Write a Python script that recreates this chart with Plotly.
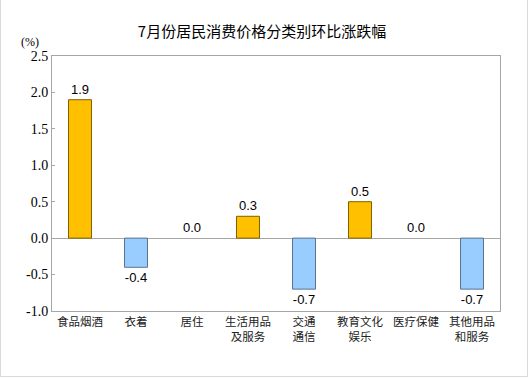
import plotly.graph_objects as go

categories = ["食品烟酒", "衣着", "居住", "生活用品<br>及服务", "交通<br>通信",
              "教育文化<br>娱乐", "医疗保健", "其他用品<br>和服务"]
values = [1.9, -0.4, 0.0, 0.3, -0.7, 0.5, 0.0, -0.7]
y_ticks = [-1.0, -0.5, 0.0, 0.5, 1.0, 1.5, 2.0, 2.5]

W, H = 529, 378
L, R, T, B = 52, 29, 56, 67
pw, ph = W - L - R, H - T - B

fill = ["#FFC000" if v > 0 else "#99CCFF" for v in values]
edge = ["#7F6000" if v > 0 else "#5A7394" for v in values]
edge_w = [1 if v != 0 else 0 for v in values]

fig = go.Figure()
fig.add_trace(go.Bar(
    x=categories, y=values, width=0.41,
    marker=dict(color=fill, line=dict(color=edge, width=edge_w)),
    text=[f"{v:.1f}" for v in values], textposition="outside",
    textfont=dict(family="Liberation Sans, Arial", size=13, color="#000"),
    cliponaxis=False, hoverinfo="skip",
))

def px(x):
    return (x - L) / pw

def py(y):
    return (H - B - y) / ph

fig.update_layout(
    width=W, height=H,
    margin=dict(l=L, r=R, t=T, b=B, autoexpand=False),
    paper_bgcolor="white", plot_bgcolor="white",
    showlegend=False,
    title=dict(text="7月份居民消费价格分类别环比涨跌幅", x=262 / W, xref="container",
               xanchor="center", y=1 - 32 / H, yref="container", yanchor="middle",
               font=dict(family="Noto Sans CJK SC", size=15, color="#000")),
    xaxis=dict(showline=True, linecolor="#A6A6A6", linewidth=1, mirror=True,
               ticks="", showgrid=False,
               tickfont=dict(family="Noto Sans CJK SC", size=11.5, color="#222")),
    yaxis=dict(range=[-1.0, 2.5], tickvals=y_ticks,
               ticktext=[f"{t:.1f}" for t in y_ticks],
               showline=True, linecolor="#A6A6A6", linewidth=1, mirror=True,
               ticks="inside", ticklen=3, tickcolor="#A6A6A6",
               showgrid=False, zeroline=True, zerolinecolor="#A6A6A6", zerolinewidth=1,
               tickfont=dict(family="Liberation Serif, Times New Roman", size=14, color="#000")),
    annotations=[dict(text="(%)", x=px(30), y=py(42), xref="paper", yref="paper",
                      showarrow=False, xanchor="center", yanchor="middle",
                      font=dict(family="Liberation Serif, Times New Roman", size=12, color="#000"))],
    shapes=[dict(type="rect", xref="paper", yref="paper",
                 x0=px(0.5), x1=px(527.5), y0=py(376.5), y1=py(-2),
                 line=dict(color="#D9D9D9", width=1), fillcolor="rgba(0,0,0,0)", layer="below")],
)

fig.write_html("out.html", config={"displayModeBar": False},
               post_script="document.body.style.margin='0';document.body.style.overflow='hidden';")
